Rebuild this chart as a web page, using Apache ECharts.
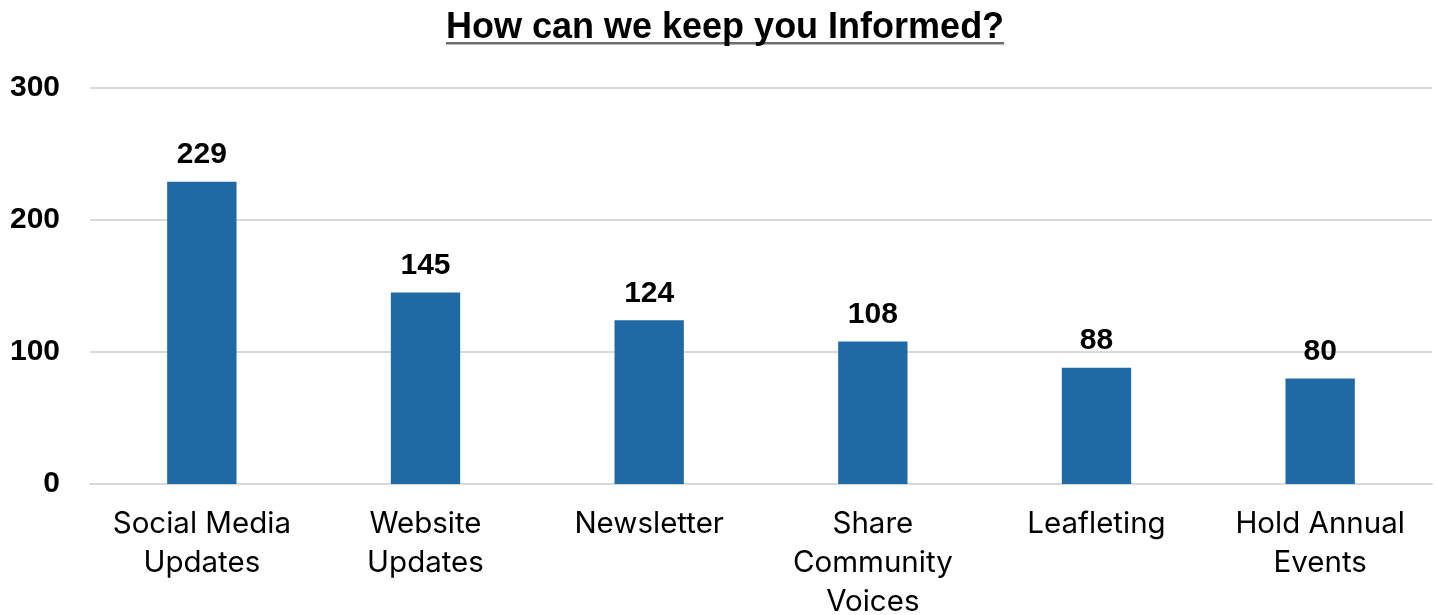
<!DOCTYPE html>
<html>
<head>
<meta charset="utf-8">
<style>
  html, body { margin: 0; padding: 0; background: #ffffff; }
  #chart { width: 1437px; height: 615px; }
</style>
<script src="https://cdn.jsdelivr.net/npm/echarts@6/dist/echarts.min.js"></script>
</head>
<body>
<div id="chart"></div>
<script>
// Survey responses: preferred ways of staying informed
const titleText = 'How can we keep you Informed?';
const categories = [
  'Social Media\nUpdates',
  'Website\nUpdates',
  'Newsletter',
  'Share\nCommunity\nVoices',
  'Leafleting',
  'Hold Annual\nEvents'
];
const responses = [229, 145, 124, 108, 88, 80];
const yTicks = [0, 100, 200, 300];

const CHART_W = 1437;
const titleFont = 'bold 36px "Liberation Sans", Arial, sans-serif';

// Width of the title, used to place it and the underline beneath it
function measure(text, font) {
  const c = document.createElement('canvas').getContext('2d');
  c.font = font;
  return c.measureText(text).width;
}
const titleWidth = measure(titleText, titleFont);
const titleLeft = Math.round((CHART_W - titleWidth) / 2 + 7);

const chart = echarts.init(document.getElementById('chart'));
chart.setOption({
  animation: false,
  title: {
    text: titleText,
    left: titleLeft,
    top: 10,
    padding: 0,
    textStyle: {
      fontFamily: '"Liberation Sans", Arial, sans-serif',
      fontWeight: 'bold',
      fontSize: 36,
      color: '#000000'
    }
  },
  graphic: [{
    type: 'rect',
    left: titleLeft,
    top: 42,
    shape: { width: titleWidth, height: 2.5 },
    style: { fill: '#6f6f6f' }
  }],
  grid: {
    left: 90, right: 5, top: 88, bottom: 131,
    containLabel: false,
    outerBoundsMode: 'none'
  },
  xAxis: {
    type: 'category',
    data: categories,
    axisLine: { show: true, lineStyle: { color: '#d9d9d9', width: 2 } },
    axisTick: { show: false },
    axisLabel: {
      margin: 21,
      interval: 0,
      color: '#000000',
      fontFamily: 'Inter, "Open Sans", sans-serif',
      fontSize: 29.5,
      lineHeight: 39
    }
  },
  yAxis: {
    type: 'value',
    min: yTicks[0],
    max: yTicks[yTicks.length - 1],
    interval: 100,
    axisLine: { show: false },
    axisTick: { show: false },
    splitLine: { lineStyle: { color: '#d9d9d9', width: 2 } },
    axisLabel: {
      margin: 30,
      color: '#000000',
      fontFamily: '"Liberation Sans", Arial, sans-serif',
      fontWeight: 'bold',
      fontSize: 30
    }
  },
  series: [{
    type: 'bar',
    data: responses,
    barWidth: '31%',
    itemStyle: { color: '#1f6aa5' },
    label: {
      show: true,
      position: 'top',
      distance: 12,
      color: '#000000',
      fontFamily: '"Liberation Sans", Arial, sans-serif',
      fontWeight: 'bold',
      fontSize: 30
    }
  }]
});
</script>
</body>
</html>
